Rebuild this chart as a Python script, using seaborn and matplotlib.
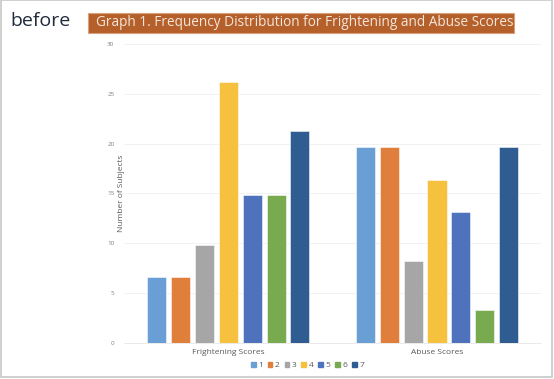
import pandas as pd
import seaborn as sns
import matplotlib.pyplot as plt
from matplotlib.patches import Rectangle

# data (percent of subjects per score)
categories = ['Frightening Scores', 'Abuse Scores']
score_levels = ['1', '2', '3', '4', '5', '6', '7']
frightening = [6.6, 6.6, 9.8, 26.2, 14.8, 14.8, 21.3]
abuse = [19.7, 19.7, 8.2, 16.4, 13.1, 3.3, 19.7]
yticks = [0, 5, 10, 15, 20, 25, 30]

palette = ['#6A9FD6', '#E07E3C', '#A6A6A6', '#F7C140', '#4E72BC', '#78AA50', '#305D91']

df = pd.DataFrame({
    'category': [categories[0]] * 7 + [categories[1]] * 7,
    'score': score_levels * 2,
    'value': frightening + abuse,
})

sns.set_theme(style='white')
plt.rcParams['font.family'] = ['Open Sans', 'DejaVu Sans']

fig = plt.figure(figsize=(5.54, 3.79), dpi=100)
ax = fig.add_axes([0.224, 0.095, 0.753, 0.789])

sns.barplot(data=df, x='category', y='value', hue='score', palette=palette,
            saturation=1, width=0.8, gap=0.2, ax=ax, legend=False, linewidth=0.6,
            edgecolor='#ffffff99')

ax.set_xlim(-0.5, 1.5)
ax.set_ylim(0, 30)
ax.set_yticks(yticks)
ax.yaxis.grid(True, color='#f0f0f0', linewidth=0.6)
ax.set_axisbelow(True)
for side in ['top', 'right', 'left']:
    ax.spines[side].set_visible(False)
ax.spines['bottom'].set_color('#e6e6e6')
ax.spines['bottom'].set_linewidth(0.6)
ax.tick_params(axis='y', labelsize=4.5, colors='#7f7f7f', length=0, pad=7)
ax.tick_params(axis='x', labelsize=6, colors='#595959', length=0, pad=4)
ax.set_xlabel('')
ax.set_ylabel('Number of Subjects', fontsize=6, color='#595959', labelpad=-13)

# legend along the bottom
handles = [Rectangle((0, 0), 1, 1, color=c) for c in palette]
fig.legend(handles, score_levels, loc='center', bbox_to_anchor=(0.555, 0.035),
           ncol=7, fontsize=6, frameon=False, handlelength=0.55, handleheight=0.55,
           handletextpad=0.3, columnspacing=0.6, labelcolor='#595959')

# header text and title box
fig.text(0.018, 0.945, 'before', fontsize=14, fontweight='medium', color='#1f2a3a',
         va='center', ha='left')
fig.patches.append(Rectangle((88 / 554, 1 - 33 / 379), 426 / 554, 20 / 379,
                             transform=fig.transFigure, facecolor='#B5602B',
                             edgecolor='#d9a27f', linewidth=0.8))
fig.text(96 / 554, 1 - 23 / 379, 'Graph 1. Frequency Distribution for Frightening and Abuse Scores',
         fontsize=9.8, color='#f4e6dc', va='center', ha='left')

# thin frame around the picture
fig.patches.append(Rectangle((0.002, 0.004), 0.995, 0.995, transform=fig.transFigure,
                             fill=False, edgecolor='#c8c8c8', linewidth=1.2))

plt.savefig('out.png', dpi=100)
